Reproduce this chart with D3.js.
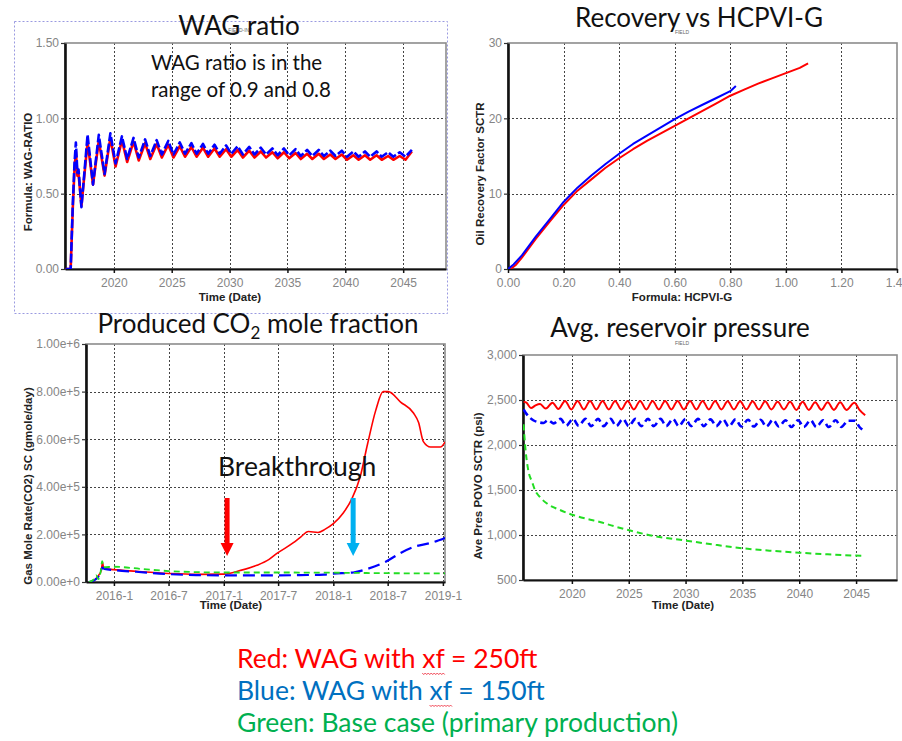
<!DOCTYPE html>
<html>
<head>
<meta charset="utf-8">
<script src="https://cdn.jsdelivr.net/npm/d3@7"></script>
<style>
  body { margin: 0; background: #fff; }
  svg { display: block; }
  .tick text { font-family: "Liberation Sans", Arial, sans-serif; font-size: 12px; fill: #858585; }
  .axlabel { font-family: "Liberation Sans", Arial, sans-serif; font-size: 11.5px; font-weight: bold; fill: #222; }
  .title { font-family: Lato, "Open Sans", sans-serif; font-size: 26px; fill: #111; }
  .note { font-family: Lato, "Open Sans", sans-serif; }
  .tiny { font-family: "Liberation Sans", Arial, sans-serif; font-size: 5px; fill: #666; }
</style>
</head>
<body>
<svg id="chart" width="902" height="741"></svg>
<script>
// ---------- WAG ratio (decimal year, ratio) ----------
const wagBlue = [
  [2015.83,0],[2016.27,0],[2016.45,0.42],[2016.6,0.70],[2016.72,0.84],[2016.85,0.64],[2016.95,0.66],[2017.2,0.41],
  [2017.73,0.89],[2018.2,0.56],[2018.7,0.89],[2019.2,0.63],[2019.7,0.90],[2020.15,0.70],[2020.7,0.88],[2021.15,0.73],
  [2021.7,0.87],[2022.15,0.74],[2022.7,0.86],[2023.15,0.75],[2023.7,0.855],[2024.15,0.76],[2024.7,0.85],[2025.15,0.76],
  [2025.7,0.84],[2026.15,0.765],[2026.7,0.835],[2027.15,0.765],[2027.7,0.83],[2028.15,0.765],[2028.7,0.825],[2029.15,0.765],
  [2029.7,0.82],[2030.15,0.765],[2030.7,0.815],[2031.15,0.76],[2031.7,0.81],[2032.15,0.76],[2032.7,0.805],[2033.15,0.76],
  [2033.7,0.80],[2034.15,0.755],[2034.7,0.80],[2035.15,0.755],[2035.7,0.795],[2036.15,0.75],[2036.7,0.79],[2037.15,0.75],
  [2037.7,0.79],[2038.15,0.75],[2038.7,0.785],[2039.15,0.75],[2039.7,0.785],[2040.15,0.745],[2040.7,0.78],[2041.15,0.745],
  [2041.7,0.78],[2042.15,0.745],[2042.7,0.78],[2043.15,0.745],[2043.7,0.775],[2044.15,0.745],[2044.7,0.775],[2045.2,0.745],
  [2045.75,0.79]
];
const wagRed = [
  [2015.83,0],[2016.27,0],[2016.45,0.40],[2016.6,0.66],[2016.72,0.78],[2016.85,0.62],[2016.95,0.63],[2017.2,0.42],
  [2017.73,0.84],[2018.2,0.56],[2018.7,0.85],[2019.2,0.62],[2019.7,0.87],[2020.15,0.68],[2020.7,0.855],[2021.15,0.71],
  [2021.7,0.845],[2022.15,0.72],[2022.7,0.835],[2023.15,0.73],[2023.7,0.83],[2024.15,0.74],[2024.7,0.825],[2025.15,0.74],
  [2025.7,0.815],[2026.15,0.745],[2026.7,0.81],[2027.15,0.745],[2027.7,0.805],[2028.15,0.745],[2028.7,0.80],[2029.15,0.745],
  [2029.7,0.795],[2030.15,0.745],[2030.7,0.79],[2031.15,0.74],[2031.7,0.785],[2032.15,0.74],[2032.7,0.78],[2033.15,0.74],
  [2033.7,0.775],[2034.15,0.735],[2034.7,0.775],[2035.15,0.735],[2035.7,0.77],[2036.15,0.73],[2036.7,0.765],[2037.15,0.73],
  [2037.7,0.765],[2038.15,0.73],[2038.7,0.76],[2039.15,0.73],[2039.7,0.76],[2040.15,0.725],[2040.7,0.755],[2041.15,0.725],
  [2041.7,0.755],[2042.15,0.725],[2042.7,0.755],[2043.15,0.725],[2043.7,0.75],[2044.15,0.725],[2044.7,0.75],[2045.2,0.725],
  [2045.75,0.78]
];
const yearTicks = [2020, 2025, 2030, 2035, 2040, 2045];
const wagTicks = [0, 0.5, 1.0, 1.5];

// ---------- Recovery factor vs HCPVI-G ----------
const recBlue = [
  [0.0,0],[0.02,0.6],[0.05,1.8],[0.08,3.3],[0.1,4.3],[0.15,6.6],[0.2,8.9],[0.25,10.8],[0.3,12.4],[0.35,13.9],
  [0.4,15.3],[0.45,16.6],[0.5,17.7],[0.55,18.8],[0.6,19.9],[0.65,20.9],[0.7,21.8],[0.75,22.7],[0.8,23.6],[0.82,24.3]
];
const recRed = [
  [0.01,0],[0.03,0.6],[0.05,1.5],[0.08,3.0],[0.1,4.0],[0.15,6.3],[0.2,8.5],[0.25,10.4],[0.3,11.9],[0.35,13.4],
  [0.4,14.7],[0.45,15.9],[0.5,17.0],[0.55,18.0],[0.6,19.0],[0.65,20.0],[0.7,21.0],[0.75,22.0],[0.8,23.0],
  [0.85,23.8],[0.9,24.6],[0.95,25.3],[1.0,26.0],[1.05,26.7],[1.08,27.3]
];
const hcpviTicks = [0, 0.2, 0.4, 0.6, 0.8, 1.0, 1.2, 1.4];
const recTicks = [0, 10, 20, 30];

// ---------- CO2 gas mole rate (date, gmole/day) ----------
const co2Red = [
  ["2015-10-10",0],["2015-10-28",8000],["2015-11-12",30000],["2015-11-20",50000],["2015-11-24",82000],["2015-11-28",57000],
  ["2016-01-01",52000],["2016-03-15",45000],["2016-07-01",36000],["2016-10-01",32000],["2017-01-01",33000],
  ["2017-02-24",48000],["2017-04-21",70000],["2017-06-01",95000],["2017-06-27",120000],["2017-08-21",165000],
  ["2017-09-15",190000],["2017-10-10",212000],["2017-11-11",208000],["2017-12-05",222000],["2018-01-01",245000],
  ["2018-02-03",290000],["2018-03-04",350000],["2018-03-31",440000],["2018-04-25",580000],["2018-05-22",720000],
  ["2018-06-16",800000],["2018-07-03",800000],["2018-08-13",756000],["2018-09-25",710000],["2018-10-12",670000],
  ["2018-10-28",590000],["2018-11-21",567000],["2018-12-24",567000],["2019-01-09",590000]
];
const co2Blue = [
  ["2015-10-10",0],["2015-10-28",8000],["2015-11-12",25000],["2015-11-24",60000],["2015-12-01",55000],
  ["2016-01-01",50000],["2016-03-15",43000],["2016-07-01",33000],["2016-10-01",29000],["2017-01-01",28000],
  ["2017-07-01",28000],["2017-09-12",29000],["2017-12-01",31000],["2018-01-01",35000],["2018-03-08",40000],
  ["2018-04-24",55000],["2018-06-23",84000],["2018-08-13",122000],["2018-09-25",147000],["2018-11-21",164000],
  ["2019-01-09",185000]
];
const co2Green = [
  ["2015-10-10",0],["2015-10-25",10000],["2015-11-03",28000],["2015-11-10",12000],["2015-11-18",45000],
  ["2015-11-23",88000],["2015-11-28",62000],["2016-01-01",64000],["2016-04-01",55000],["2016-07-01",46000],
  ["2017-01-01",40000],["2017-07-01",40000],["2018-01-01",39000],["2018-07-01",37000],["2019-01-09",36000]
];
const co2Ticks = [0, 200000, 400000, 600000, 800000, 1000000];
const dateTicks = ["2016-01-01","2016-07-01","2017-01-01","2017-07-01","2018-01-01","2018-07-01","2019-01-01"];
const co2Domain = ["2015-09-30", "2019-01-08"];

// ---------- Average reservoir pressure (decimal year, psi) ----------
const presRed = [
  [2015.75,2480],[2016.0,2470],[2016.4,2410],[2016.8,2440],[2017.2,2455],[2017.7,2405],[2018.3,2470],[2018.8,2400],
  [2019.4,2490],[2019.95,2395],[2020.5,2490],[2021.05,2395],[2021.6,2490],[2022.15,2395],[2022.7,2490],[2023.25,2395],
  [2023.8,2490],[2024.35,2395],[2024.9,2490],[2025.45,2395],[2026.0,2490],[2026.55,2395],[2027.1,2490],[2027.65,2395],
  [2028.2,2490],[2028.75,2395],[2029.3,2490],[2029.85,2395],[2030.4,2490],[2030.95,2395],[2031.5,2490],[2032.05,2395],
  [2032.6,2490],[2033.15,2395],[2033.7,2485],[2034.25,2395],[2034.8,2485],[2035.35,2395],[2035.9,2485],[2036.45,2395],
  [2037.0,2485],[2037.55,2395],[2038.1,2480],[2038.65,2395],[2039.2,2480],[2039.75,2390],[2040.3,2480],[2040.85,2390],
  [2041.4,2475],[2041.95,2390],[2042.5,2475],[2043.05,2390],[2043.6,2475],[2044.15,2390],[2044.85,2470],[2045.3,2390],
  [2045.8,2330]
];
const presBlue = [
  [2015.75,2395],[2015.9,2365],[2016.6,2275],[2017.0,2255],[2017.5,2245],[2017.9,2275],[2018.4,2240],[2019.0,2290],
  [2019.5,2215],[2020.1,2290],[2020.6,2215],[2021.2,2290],[2021.7,2210],[2022.3,2290],[2022.8,2210],[2023.4,2290],
  [2023.9,2210],[2024.5,2290],[2025.0,2210],[2025.6,2290],[2026.1,2210],[2026.7,2290],[2027.2,2210],[2027.8,2290],
  [2028.3,2210],[2028.9,2290],[2029.4,2210],[2030.0,2290],[2030.5,2210],[2031.1,2290],[2031.6,2210],[2032.2,2285],
  [2032.7,2210],[2033.3,2285],[2033.8,2205],[2034.4,2285],[2034.9,2205],[2035.5,2280],[2036.0,2205],[2036.6,2280],
  [2037.1,2205],[2037.7,2280],[2038.2,2205],[2038.8,2275],[2039.3,2200],[2039.9,2275],[2040.4,2200],[2041.0,2275],
  [2041.5,2200],[2042.1,2275],[2042.6,2200],[2043.2,2275],[2043.7,2200],[2044.3,2270],[2044.9,2270],[2045.3,2200],
  [2045.8,2150]
];
const presGreen = [
  [2015.75,2230],[2015.87,2020],[2016.16,1720],[2016.5,1590],[2016.75,1500],[2017.2,1420],[2017.78,1352],[2018.95,1278],
  [2020.1,1222],[2021.3,1180],[2022.46,1145],[2023.7,1098],[2025.04,1052],[2027.15,990],[2030.08,937],[2032.5,893],
  [2035.06,852],[2037.5,825],[2040.0,803],[2042.5,785],[2045.75,767]
];
const presTicks = [500, 1000, 1500, 2000, 2500, 3000];

// ---------- Legend text ----------
const legendRows = [
  { pre: "Red: WAG with ", mid: "xf", post: " = 250ft", color: "#ff0000" },
  { pre: "Blue: WAG with ", mid: "xf", post: " = 150ft", color: "#0070c0" },
  { pre: "Green: Base case (primary production)", mid: "", post: "", color: "#00b050" }
];

const RED = "#ff0000", BLUE = "#0000ff", GREEN = "#22dd22";
const svg = d3.select("#chart");
const parse = d3.utcParse("%Y-%m-%d");

// Draws frame, grid, axes and axis titles for one plot box.
// lab = { x: [text, centreX, baselineY], y: [text, centreX, centreY] }
function frame(g, id, x, y, xt, yt, xfmt, yfmt, lab) {
  const [x0, x1] = x.range(), [y0, y1] = y.range(); // y0 bottom, y1 top
  const grid = g.append("g").attr("stroke", "#444").attr("stroke-width", 1).attr("stroke-dasharray", "2,2");
  xt.forEach(t => {
    const px = Math.round(x(t)) + 0.5;
    if (px > x0 + 2 && px < x1 - 1) grid.append("line").attr("x1", px).attr("x2", px).attr("y1", y1).attr("y2", y0);
  });
  yt.forEach(t => {
    const py = Math.round(y(t)) + 0.5;
    if (py < y0 - 2 && py > y1 + 2) grid.append("line").attr("x1", x0).attr("x2", x1).attr("y1", py).attr("y2", py);
  });
  g.append("rect").attr("x", x0).attr("y", y1).attr("width", x1 - x0).attr("height", y0 - y1)
    .attr("fill", "none").attr("stroke", "#8c8c8c").attr("stroke-width", 1.6);

  g.append("clipPath").attr("id", id).append("rect")
    .attr("x", x0).attr("y", y1).attr("width", x1 - x0).attr("height", y0 - y1);

  const ax = g.append("g").attr("transform", `translate(0,${y0})`)
    .call(d3.axisBottom(x).tickValues(xt).tickFormat(xfmt).tickSize(4).tickSizeOuter(0));
  ax.select(".domain").attr("stroke", "#111").attr("stroke-width", 2.2);
  ax.selectAll(".tick line").attr("stroke", "#111").attr("stroke-width", 1.5);
  ax.selectAll(".tick text").attr("dy", "0.95em");

  const ay = g.append("g").attr("transform", `translate(${x0},0)`)
    .call(d3.axisLeft(y).tickValues(yt).tickFormat(yfmt).tickSize(4).tickSizeOuter(0));
  ay.select(".domain").attr("stroke", "#111").attr("stroke-width", 2.6);
  ay.selectAll(".tick line").attr("stroke", "#333").attr("stroke-width", 1.2);
  ay.selectAll(".tick text").attr("x", -6);

  g.append("text").attr("class", "axlabel").attr("text-anchor", "middle")
    .attr("x", lab.x[1]).attr("y", lab.x[2]).text(lab.x[0]);
  g.append("text").attr("class", "axlabel").attr("text-anchor", "middle").attr("dy", "0.35em")
    .attr("transform", `translate(${lab.y[1]},${lab.y[2]}) rotate(-90)`).text(lab.y[0]);
}

function series(g, id, data, x, y, color, width, dash, curve) {
  g.append("path").datum(data)
    .attr("clip-path", `url(#${id})`)
    .attr("fill", "none").attr("stroke", color).attr("stroke-width", width)
    .attr("stroke-dasharray", dash || null).attr("stroke-linejoin", "round")
    .attr("d", d3.line().x(d => x(d[0])).y(d => y(d[1])).curve(curve || d3.curveLinear));
}

// ---------- Panel 1: WAG ratio ----------
{
  const g = svg.append("g");
  g.append("rect").attr("x", 14.5).attr("y", 21.5).attr("width", 433).attr("height", 292)
    .attr("fill", "none").attr("stroke", "#9a9ae0").attr("stroke-width", 1).attr("stroke-dasharray", "2,2");
  const x = d3.scaleLinear([2015.78, 2048.7], [65, 446]);
  const y = d3.scaleLinear([0, 1.5], [269, 43]);
  frame(g, "clipWag", x, y, yearTicks, wagTicks, d3.format("d"), d3.format(".2f"),
        { x: ["Time (Date)", 230, 301], y: ["Formula: WAG-RATIO", 28, 172] });
  series(g, "clipWag", wagRed, x, y, RED, 2.6);
  series(g, "clipWag", wagBlue, x, y, BLUE, 2.6, "9,2.5");
  g.append("text").attr("class", "tiny").attr("text-anchor", "middle").attr("x", 240).attr("y", 32).text("FIELD-INJ");
  g.append("text").attr("class", "title").attr("text-anchor", "middle").attr("x", 239).attr("y", 35).text("WAG ratio");
  g.append("text").attr("class", "note").style("fill", "#111").attr("font-size", 20.5).attr("x", 151).attr("y", 70).text("WAG ratio is in the");
  g.append("text").attr("class", "note").style("fill", "#111").attr("font-size", 20.5).attr("x", 151).attr("y", 97).text("range of 0.9 and 0.8");
}

// ---------- Panel 2: Recovery vs HCPVI-G ----------
{
  const g = svg.append("g");
  const x = d3.scaleLinear([0, 1.4], [508, 897]);
  const y = d3.scaleLinear([0, 30], [269, 43]);
  frame(g, "clipRec", x, y, hcpviTicks, recTicks, d3.format(".2f"), d3.format("d"),
        { x: ["Formula: HCPVI-G", 682, 301], y: ["Oil Recovery Factor SCTR", 480, 174] });
  series(g, "clipRec", recRed, x, y, RED, 2);
  series(g, "clipRec", recBlue, x, y, BLUE, 2);
  g.append("text").attr("class", "title").attr("text-anchor", "middle").attr("x", 699).attr("y", 27).text("Recovery vs HCPVI-G");
  g.append("text").attr("class", "tiny").attr("text-anchor", "middle").attr("x", 682).attr("y", 34).text("FIELD");
}

// ---------- Panel 3: Produced CO2 ----------
{
  const g = svg.append("g");
  const x = d3.scaleUtc(co2Domain.map(parse), [86, 445]);
  const y = d3.scaleLinear([0, 1e6], [582, 344]);
  frame(g, "clipCo2", x, y, dateTicks.map(parse), co2Ticks, d3.utcFormat("%Y-%-m"), d3.format(".2e"),
        { x: ["Time (Date)", 231, 609], y: ["Gas Mole Rate(CO2) SC (gmole/day)", 28, 486] });
  const conv = arr => arr.map(d => [parse(d[0]), d[1]]);
  series(g, "clipCo2", conv(co2Red), x, y, RED, 1.6, null, d3.curveMonotoneX);
  series(g, "clipCo2", conv(co2Blue), x, y, BLUE, 2.2, "12,6", d3.curveMonotoneX);
  series(g, "clipCo2", conv(co2Green), x, y, GREEN, 1.8, "6,4", d3.curveMonotoneX);

  const t = g.append("text").attr("class", "title").attr("text-anchor", "middle").attr("x", 258).attr("y", 333);
  t.append("tspan").text("Produced CO");
  t.append("tspan").attr("font-size", 17).attr("dy", 6).text("2");
  t.append("tspan").attr("dy", -6).text(" mole fraction");
  g.append("text").attr("class", "note").style("fill", "#111").attr("font-size", 26.5).attr("x", 218).attr("y", 476).text("Breakthrough");

  // breakthrough arrows
  const arrow = (cx, color) => {
    const p = d3.path();
    p.moveTo(cx - 2.5, 498); p.lineTo(cx + 2.5, 498); p.lineTo(cx + 2.5, 543);
    p.lineTo(cx + 6.5, 543); p.lineTo(cx, 556); p.lineTo(cx - 6.5, 543); p.lineTo(cx - 2.5, 543); p.closePath();
    g.append("path").attr("d", p.toString()).attr("fill", color);
  };
  arrow(x(parse("2017-01-12")), "#ff0000");
  arrow(x(parse("2018-03-08")), "#00b0f0");
}

// ---------- Panel 4: Average reservoir pressure ----------
{
  const g = svg.append("g");
  const x = d3.scaleLinear([2015.7, 2048.6], [523, 897]);
  const y = d3.scaleLinear([500, 3000], [580, 355]);
  frame(g, "clipPres", x, y, yearTicks, presTicks, d3.format("d"), d3.format(","),
        { x: ["Time (Date)", 683, 609], y: ["Ave Pres POVO SCTR (psi)", 478, 486] });
  series(g, "clipPres", presRed, x, y, RED, 2, null, d3.curveMonotoneX);
  series(g, "clipPres", presBlue, x, y, BLUE, 2.6, "7,4", d3.curveMonotoneX);
  series(g, "clipPres", presGreen, x, y, GREEN, 2, "6,4", d3.curveMonotoneX);
  g.append("text").attr("class", "title").attr("text-anchor", "middle").attr("x", 680).attr("y", 337).text("Avg. reservoir pressure");
  g.append("text").attr("class", "tiny").attr("text-anchor", "middle").attr("x", 682).attr("y", 345).text("FIELD");
}

// ---------- Colour key ----------
{
  const g = svg.append("g");
  legendRows.forEach((r, i) => {
    const t = g.append("text").attr("class", "note").attr("font-size", 26.5)
      .attr("x", 237).attr("y", 668 + i * 32).style("fill", r.color);
    t.append("tspan").text(r.pre);
    if (r.mid) {
      t.append("tspan").text(r.mid);
      t.append("tspan").text(r.post);
      const node = t.node();
      const s = node.getStartPositionOfChar(r.pre.length).x;
      const w = node.getSubStringLength(r.pre.length, 2);
      const yb = 668 + i * 32 + 5;
      const p = d3.path();
      p.moveTo(s, yb);
      for (let k = 0, xx = s; xx < s + w; k++) { xx += 1.5; p.lineTo(xx, yb + (k % 2 ? 0 : 1.6)); }
      g.append("path").attr("d", p.toString()).attr("fill", "none").attr("stroke", "#e23").attr("stroke-width", 0.8);
    }
  });
}
</script>
</body>
</html>
